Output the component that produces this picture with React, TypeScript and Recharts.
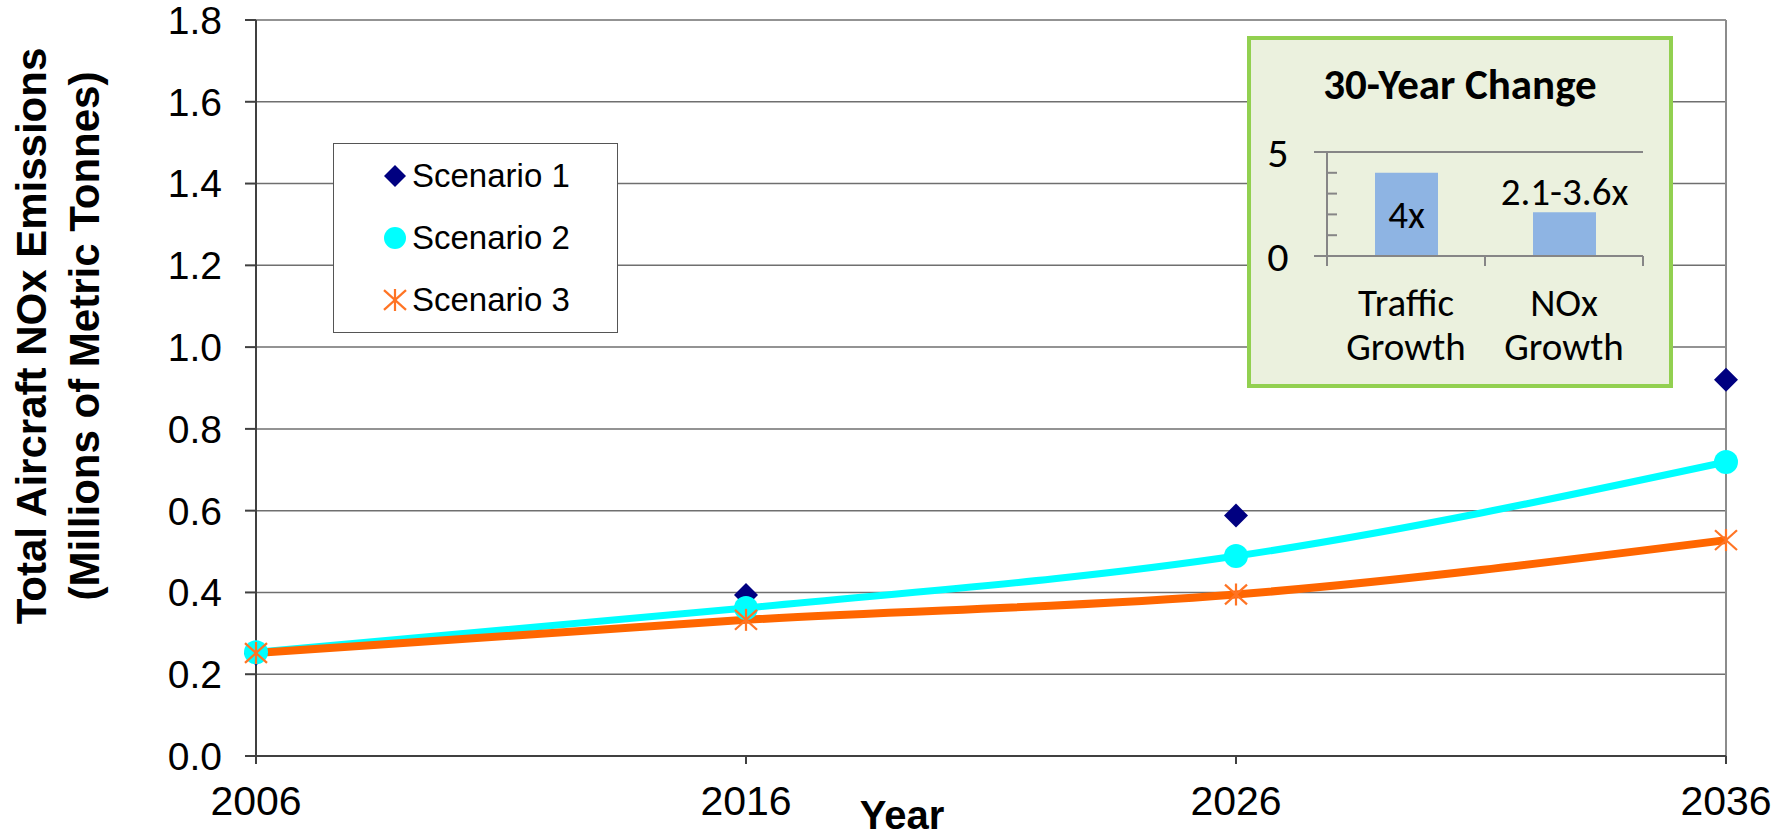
import {
	Bar,
	BarChart,
	CartesianGrid,
	ComposedChart,
	LabelList,
	Legend,
	Line,
	ReferenceLine,
	XAxis,
	YAxis,
} from "recharts";

// main chart data
const years = [2006, 2016, 2026, 2036];
const scenario1 = [0.25, 0.394, 0.588, 0.92];
const scenario2 = [0.254, 0.362, 0.489, 0.719];
const scenario3 = [0.252, 0.333, 0.395, 0.528];
const seriesNames = ["Scenario 1", "Scenario 2", "Scenario 3"];
const yTicks = [0, 0.2, 0.4, 0.6, 0.8, 1.0, 1.2, 1.4, 1.6, 1.8];

// inset "30-Year Change" data
const insetCategories = ["Traffic Growth", "NOx Growth"];
const insetValues = [4, 2.1];
const insetLabels = ["4x", "2.1-3.6x"];
const insetTicks = [0, 1, 2, 3, 4, 5];

const data = years.map((year, i) => ({
	year,
	s1: scenario1[i],
	s2: scenario2[i],
	s3: scenario3[i],
}));

const insetData = insetCategories.map((name, i) => ({
	name,
	value: insetValues[i],
	label: insetLabels[i],
}));

const ARIAL = '"Liberation Sans", Arial, sans-serif';
const CALIBRI = 'Carlito, Lato, sans-serif';
const NAVY = "#000080";
const CYAN = "#00FFFF";
const ORANGE = "#FF6600";
const STAR = "#FF7424";
const AXIS = "#404040";
const INSET_AXIS = "#868686";

const INSET_W = 418;
const INSET_H = 344;
const INSET_LEFT = 76;
const INSET_RIGHT = 26;
const HALF_BAND = (INSET_W - INSET_LEFT - INSET_RIGHT) / insetCategories.length / 2;

function Diamond({ cx, cy, r = 12 }: { cx: number; cy: number; r?: number }) {
	return <polygon points={`${cx},${cy - r} ${cx + r},${cy} ${cx},${cy + r} ${cx - r},${cy}`} fill={NAVY} />;
}

function Dot({ cx, cy, r = 12 }: { cx: number; cy: number; r?: number }) {
	return <circle cx={cx} cy={cy} r={r} fill={CYAN} />;
}

function Star({ cx, cy, r = 11 }: { cx: number; cy: number; r?: number }) {
	const d = r * 0.9;
	return (
		<g stroke={STAR} strokeWidth={2.2}>
			<line x1={cx - r} y1={cy - d} x2={cx + r} y2={cy + d} />
			<line x1={cx - r} y1={cy + d} x2={cx + r} y2={cy - d} />
			<line x1={cx} y1={cy - r} x2={cx} y2={cy + r} />
		</g>
	);
}

const markers: Record<string, (cx: number, cy: number, r: number) => JSX.Element> = {
	s1: (cx, cy, r) => <Diamond cx={cx} cy={cy} r={r} />,
	s2: (cx, cy, r) => <Dot cx={cx} cy={cy} r={r} />,
	s3: (cx, cy, r) => <Star cx={cx} cy={cy} r={r} />,
};

const renderYTitle = () => (
	<g fontFamily={ARIAL} fontWeight={700} fontSize={42} fill="#000">
		<text transform="translate(46,336) rotate(-90)" textAnchor="middle">
			Total Aircraft NOx Emissions
		</text>
		<text transform="translate(99,336) rotate(-90)" textAnchor="middle">
			(Millions of Metric Tonnes)
		</text>
	</g>
);

const renderXTitle = () => (
	<text x={902} y={829} textAnchor="middle" fontFamily={ARIAL} fontWeight={700} fontSize={40} fill="#000">
		Year
	</text>
);

const renderLegend = (props: any) => {
	const payload = props.payload ?? [];
	return (
		<div
			style={{
				border: "1px solid #555",
				background: "#fff",
				width: 285,
				padding: "1px 0",
				boxSizing: "border-box",
				fontFamily: ARIAL,
				fontSize: 33,
				color: "#000",
			}}
		>
			{payload.map((entry: any) => (
				<div key={entry.value} style={{ display: "flex", alignItems: "center", height: 62, paddingLeft: 47 }}>
					<svg width={28} height={28} style={{ display: "block" }}>
						{markers[String(entry.dataKey)](14, 14, 11)}
					</svg>
					<span style={{ marginLeft: 3, lineHeight: "34px" }}>{entry.value}</span>
				</div>
			))}
		</div>
	);
};

function InsetYTick({ x, y, payload }: any) {
	const major = payload.value === 0 || payload.value === 5;
	return (
		<g>
			<line
				x1={major ? x - 13 : x}
				x2={major ? x : x + 10}
				y1={y}
				y2={y}
				stroke={INSET_AXIS}
				strokeWidth={2}
			/>
			{major && (
				<text x={x - 49} y={y} dy="0.35em" textAnchor="middle" fontFamily={CALIBRI} fontSize={42} fill="#000">
					{payload.value}
				</text>
			)}
		</g>
	);
}

function InsetXTick({ x, y, payload }: any) {
	const [first, second] = String(payload.value).split(" ");
	return (
		<g>
			<line x1={x - HALF_BAND} x2={x - HALF_BAND} y1={y} y2={y + 10} stroke={INSET_AXIS} strokeWidth={2} />
			<line x1={x + HALF_BAND} x2={x + HALF_BAND} y1={y} y2={y + 10} stroke={INSET_AXIS} strokeWidth={2} />
			<text x={x} y={y + 60} textAnchor="middle" fontFamily={CALIBRI} fontSize={39} fill="#000">
				{first}
			</text>
			<text x={x} y={y + 104} textAnchor="middle" fontFamily={CALIBRI} fontSize={39} fill="#000">
				{second}
			</text>
		</g>
	);
}

const renderBarLabel = (props: any) => {
	const { x, y, width, height, value, index } = props;
	const cx = Number(x) + Number(width) / 2;
	const cy = index === 0 ? Number(y) + Number(height) / 2 : Number(y) - 21;
	return (
		<text x={cx} y={cy} dy="0.35em" textAnchor="middle" fontFamily={CALIBRI} fontSize={39} fill="#000">
			{value}
		</text>
	);
};

function Inset() {
	return (
		<div
			style={{
				position: "absolute",
				left: 1247,
				top: 36,
				width: INSET_W + 8,
				height: INSET_H + 8,
				boxSizing: "border-box",
				border: "4px solid #92D050",
				background: "#EBF1DE",
			}}
		>
			<BarChart
				width={INSET_W}
				height={INSET_H}
				data={insetData}
				margin={{ top: 112, right: INSET_RIGHT, bottom: 18, left: 0 }}
			>
				<ReferenceLine y={5} stroke={INSET_AXIS} strokeWidth={2} />
				<XAxis
					dataKey="name"
					height={110}
					tickSize={0}
					tickMargin={0}
					interval={0}
					axisLine={{ stroke: INSET_AXIS, strokeWidth: 2 }}
					tickLine={false}
					tick={<InsetXTick />}
				/>
				<YAxis
					type="number"
					domain={[0, 5]}
					ticks={insetTicks}
					interval={0}
					width={INSET_LEFT}
					tickSize={0}
					tickMargin={0}
					axisLine={{ stroke: INSET_AXIS, strokeWidth: 2 }}
					tickLine={false}
					tick={<InsetYTick />}
				/>
				<Bar dataKey="value" fill="#8EB4E3" barSize={63} isAnimationActive={false}>
					<LabelList dataKey="label" content={renderBarLabel} />
				</Bar>
			</BarChart>
			<div
				style={{
					position: "absolute",
					top: 25,
					left: 0,
					width: INSET_W,
					textAlign: "center",
					fontFamily: CALIBRI,
					fontWeight: 700,
					fontSize: 43,
					lineHeight: "40px",
					color: "#000",
				}}
			>
				30-Year Change
			</div>
		</div>
	);
}

export default function App() {
	return (
		<div style={{ position: "absolute", left: 0, top: 0, width: 1789, height: 838, background: "#fff" }}>
			<ComposedChart width={1789} height={838} data={data} margin={{ top: 20, right: 63, bottom: 22, left: 106 }}>
				<CartesianGrid vertical={false} stroke="#6f6f6f" strokeWidth={1.5} />
				<ReferenceLine x={2036} stroke="#8c8c8c" strokeWidth={2} />
				<XAxis
					dataKey="year"
					type="number"
					domain={[2006, 2036]}
					ticks={years}
					interval={0}
					height={60}
					tickSize={8}
					tickMargin={22}
					axisLine={{ stroke: AXIS, strokeWidth: 2 }}
					tickLine={{ stroke: AXIS, strokeWidth: 2 }}
					tick={{ fill: "#000", fontSize: 41, fontFamily: ARIAL }}
					label={renderXTitle}
				/>
				<YAxis
					type="number"
					domain={[0, 1.8]}
					ticks={yTicks}
					interval={0}
					width={150}
					tickSize={11}
					tickMargin={23}
					tickFormatter={(v: number) => v.toFixed(1)}
					axisLine={{ stroke: AXIS, strokeWidth: 2 }}
					tickLine={{ stroke: AXIS, strokeWidth: 2 }}
					tick={{ fill: "#000", fontSize: 39, fontFamily: ARIAL }}
					label={renderYTitle}
				/>
				<Line
					dataKey="s1"
					name={seriesNames[0]}
					stroke="none"
					isAnimationActive={false}
					activeDot={false}
					dot={(p: any) => <Diamond key={`d1-${p.index}`} cx={p.cx} cy={p.cy} />}
				/>
				<Line
					dataKey="s2"
					name={seriesNames[1]}
					type="monotone"
					stroke={CYAN}
					strokeWidth={7}
					isAnimationActive={false}
					activeDot={false}
					dot={(p: any) => <Dot key={`d2-${p.index}`} cx={p.cx} cy={p.cy} />}
				/>
				<Line
					dataKey="s3"
					name={seriesNames[2]}
					type="monotone"
					stroke={ORANGE}
					strokeWidth={8}
					isAnimationActive={false}
					activeDot={false}
					dot={(p: any) => <Star key={`d3-${p.index}`} cx={p.cx} cy={p.cy} />}
				/>
				<Legend
					layout="vertical"
					align="center"
					verticalAlign="middle"
					content={renderLegend}
					wrapperStyle={{ left: 333, top: 143, width: 285, height: 190 }}
				/>
			</ComposedChart>
			<Inset />
		</div>
	);
}
